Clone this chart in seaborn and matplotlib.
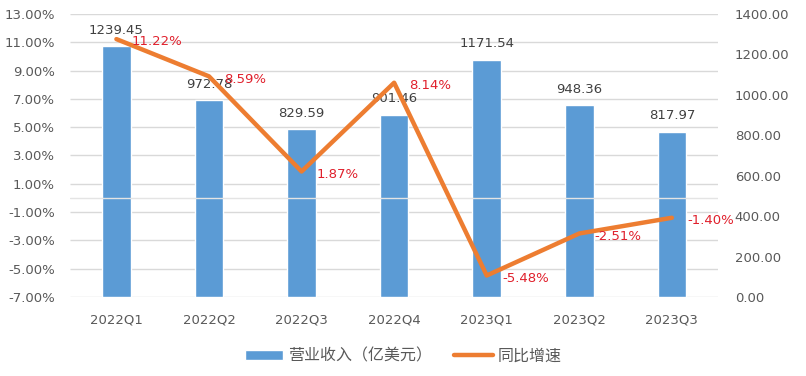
import numpy as np
import pandas as pd
import seaborn as sns
import matplotlib.pyplot as plt

# --- données ---
quarters = ['2022Q1', '2022Q2', '2022Q3', '2022Q4', '2023Q1', '2023Q2', '2023Q3']
revenue = [1239.45, 972.78, 829.59, 901.46, 1171.54, 948.36, 817.97]
growth = [11.22, 8.59, 1.87, 8.14, -5.48, -2.51, -1.40]
pct_ticks = [-7, -5, -3, -1, 1, 3, 5, 7, 9, 11, 13]
rev_ticks = [0, 200, 400, 600, 800, 1000, 1200, 1400]

df = pd.DataFrame({'季度': quarters, '营业收入': revenue, '同比增速': growth})

sns.set_theme(style="white")
plt.rcParams['font.family'] = ['DejaVu Sans', 'Noto Sans CJK SC']

fs = 9.5
blue = '#5B9BD5'
orange = '#ED7D31'
red = '#E0202C'
grey_txt = '#595959'
grid_col = '#D9D9D9'

fig = plt.figure(figsize=(8.06, 3.76), dpi=100)
ax = fig.add_axes([0.087, 0.21, 0.804, 0.753])   # barres (axe de droite)
ax2 = ax.twinx()                                  # courbe (axe de gauche)

# barres
sns.barplot(data=df, x='季度', y='营业收入', ax=ax, color=blue, width=0.31,
            saturation=1, label='营业收入（亿美元）', zorder=2)
ax.set_ylim(0, 1400)
ax.set_yticks(rev_ticks)
ax.set_yticklabels([f'{v:.2f}' for v in rev_ticks])
ax.yaxis.tick_right()
ax.bar_label(ax.containers[0], fmt='%.2f', padding=7, color='#404040', fontsize=fs)

# grille alignée sur l'axe des pourcentages (sous les barres)
fracs = [(t - pct_ticks[0]) / (pct_ticks[-1] - pct_ticks[0]) for t in pct_ticks]
ax.hlines(fracs, 0, 1, transform=ax.transAxes, color=grid_col, lw=1, zorder=0)

# courbe
sns.lineplot(data=df, x='季度', y='同比增速', ax=ax2, color=orange, lw=3.2,
             label='同比增速', sort=False, zorder=3)
ax2.set_ylim(pct_ticks[0], pct_ticks[-1])
ax2.set_yticks(pct_ticks)
ax2.set_yticklabels([f'{v:.2f}%' for v in pct_ticks])
ax2.yaxis.tick_left()
ax2.axhline(0, color='#E4E4E4', lw=1, zorder=1)
for i, g in enumerate(growth):
    ax2.annotate(f'{g:.2f}%', (i, g), xytext=(11, -2), textcoords='offset points',
                 ha='left', va='center', color=red, fontsize=fs)

ax.set_xlim(-0.5, len(quarters) - 0.5)
for a in (ax, ax2):
    a.set_xlabel('')
    a.set_ylabel('')
    for s in a.spines.values():
        s.set_visible(False)
    a.tick_params(length=0, colors=grey_txt, labelsize=fs)
ax.tick_params(axis='x', pad=12)
ax.tick_params(axis='y', pad=12)
ax2.tick_params(axis='y', pad=11)

# légende en bas
h1, l1 = ax.get_legend_handles_labels()
h2, l2 = ax2.get_legend_handles_labels()
if ax2.get_legend():
    ax2.get_legend().remove()
if ax.get_legend():
    ax.get_legend().remove()
fig.legend(h1 + h2, l1 + l2, loc='lower center', bbox_to_anchor=(0.5, -0.005),
           ncol=2, frameon=False, fontsize=11.5, handlelength=2.4,
           handleheight=0.55, columnspacing=1.4, handletextpad=0.3,
           labelcolor=grey_txt)

plt.savefig('out.png', dpi=100)
plt.close()
